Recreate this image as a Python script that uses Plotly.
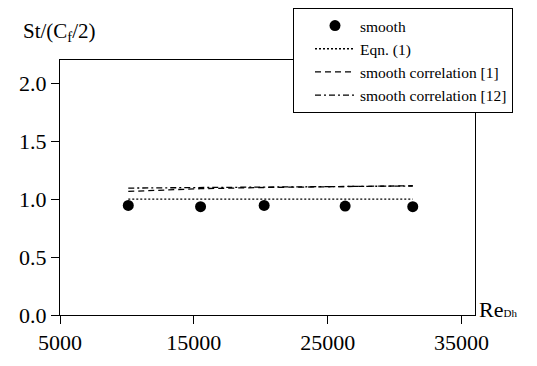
import plotly.graph_objects as go

re_dh = [10100, 15500, 20250, 26300, 31350]
smooth = [0.945, 0.935, 0.945, 0.94, 0.935]
eqn1 = [1.0, 1.0, 1.0, 1.0, 1.0]
corr1 = [1.066, 1.09, 1.10, 1.11, 1.115]
corr12 = [1.095, 1.10, 1.105, 1.11, 1.113]

x_ticks = [5000, 15000, 25000, 35000]
y_ticks = [0.0, 0.5, 1.0, 1.5, 2.0]

serif = "Liberation Serif, Times New Roman, serif"

fig = go.Figure()
fig.add_trace(go.Scatter(x=re_dh, y=smooth, mode="markers", name="smooth",
                         marker=dict(color="black", size=11)))
fig.add_trace(go.Scatter(x=re_dh, y=eqn1, mode="lines", name="Eqn. (1)",
                         line=dict(color="black", width=1.3, dash="2px,2px")))
fig.add_trace(go.Scatter(x=re_dh, y=corr1, mode="lines", name="smooth correlation [1]",
                         line=dict(color="black", width=1.3, dash="6px,4px")))
fig.add_trace(go.Scatter(x=re_dh, y=corr12, mode="lines", name="smooth correlation [12]",
                         line=dict(color="black", width=1.3, dash="6px,3px,2px,3px")))

fig.update_layout(
    width=537, height=366,
    margin=dict(l=60, r=62, t=60, b=51, autoexpand=False),
    paper_bgcolor="white", plot_bgcolor="white",
    font=dict(family=serif, color="black"),
    showlegend=True,
    legend=dict(
        xref="container", yref="container",
        x=293/537, y=1 - 8/366, xanchor="left", yanchor="top",
        bordercolor="black", borderwidth=1, bgcolor="white",
        font=dict(family=serif, size=15.5, color="black"),
        itemwidth=40, indentation=16,
    ),
    xaxis=dict(
        range=[5000, 36000], tickvals=x_ticks, ticktext=[str(v) for v in x_ticks],
        showgrid=False, zeroline=False, showline=True, linecolor="black", linewidth=1.3,
        mirror=True, ticks="outside", ticklen=8, tickcolor="black", tickwidth=1,
        tickfont=dict(family=serif, size=22, color="black"), ticklabelstandoff=-1,
        automargin=False,
    ),
    yaxis=dict(
        range=[0, 2.2], tickvals=y_ticks, ticktext=["%.1f" % v for v in y_ticks],
        showgrid=False, zeroline=False, showline=True, linecolor="black", linewidth=1.3,
        mirror=True, ticks="outside", ticklen=8, tickcolor="black", tickwidth=1,
        tickfont=dict(family=serif, size=22, color="black"), automargin=False,
    ),
    annotations=[
        dict(text="St/(C<sub>f</sub>/2)", xref="paper", yref="paper", x=-0.095, y=1.0,
             yshift=28, xanchor="left", yanchor="middle", showarrow=False,
             font=dict(family=serif, size=21, color="black")),
        dict(text="Re<span style='font-size:11px'>Dh</span>", xref="paper", yref="paper",
             x=1.0, y=0.0, xshift=2, yshift=-9, xanchor="left", yanchor="bottom",
             showarrow=False, font=dict(family=serif, size=22, color="black")),
    ],
)

fig.write_html("out.html")
